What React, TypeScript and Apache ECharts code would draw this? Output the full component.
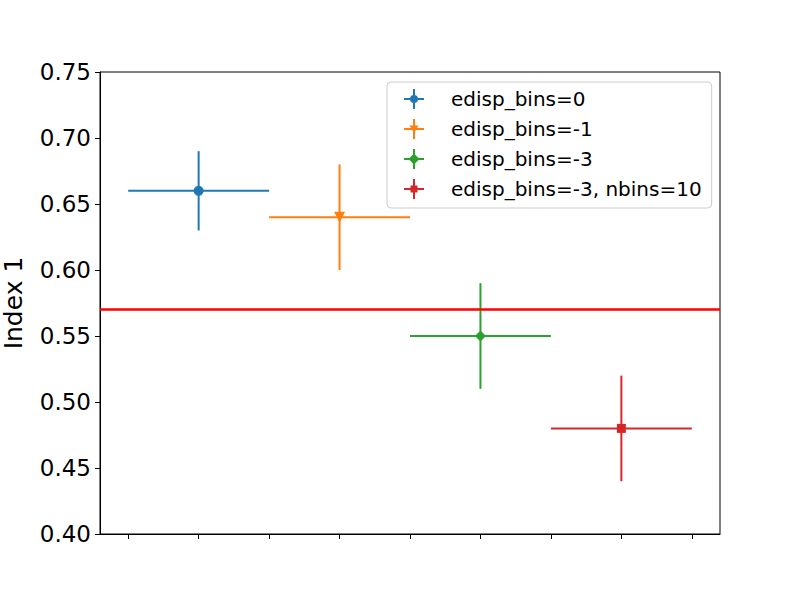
import React, { useEffect, useRef } from "react";
import * as echarts from "echarts";

const seriesNames = ["edisp_bins=0", "edisp_bins=-1", "edisp_bins=-3", "edisp_bins=-3, nbins=10"];
const xValues = [1, 3, 5, 7];
const yValues = [0.66, 0.64, 0.55, 0.48];
const xErrors = [1, 1, 1, 1];
const yErrors = [0.03, 0.04, 0.04, 0.04];
const refValue = 0.57;
const xTickValues = [0, 1, 2, 3, 4, 5, 6, 7, 8];
const colors = ["#1f77b4", "#ff7f0e", "#2ca02c", "#d62728"];

const CROSS = "M0 9 H20 V11 H0 Z M9 0 H11 V20 H9 Z ";
const markerPaths = [
  "M6 10 A4 4 0 1 1 14 10 A4 4 0 1 1 6 10 Z",
  "M5.5 6.5 L14.5 6.5 L10 14 Z",
  "M10 4.5 L15.5 10 L10 15.5 L4.5 10 Z",
  "M6.5 6.5 H13.5 V13.5 H6.5 Z",
];
const markerSymbols = ["circle", "triangle", "diamond", "rect"];
const markerRotate = [0, 180, 0, 0];
const markerSizes = [10, 11, 11, 9];

const FONT = "DejaVu Sans";

export default function App() {
  const ref = useRef<HTMLDivElement>(null);
  useEffect(() => {
    if (!ref.current) return;
    document.body.style.margin = "0";
    const chart = echarts.init(ref.current, undefined, { renderer: "svg" });
    const series: any[] = [];
    seriesNames.forEach((name, i) => {
      series.push({
        name,
        type: "custom",
        data: [[xValues[i], yValues[i], xErrors[i], yErrors[i]]],
        renderItem: (params: any, api: any) => {
          const x = api.value(0);
          const y = api.value(1);
          const xe = api.value(2);
          const ye = api.value(3);
          const l = api.coord([x - xe, y]);
          const r = api.coord([x + xe, y]);
          const t = api.coord([x, y + ye]);
          const b = api.coord([x, y - ye]);
          const style = { stroke: colors[i], lineWidth: 2 };
          return {
            type: "group",
            children: [
              { type: "line", shape: { x1: l[0], y1: l[1], x2: r[0], y2: r[1] }, style },
              { type: "line", shape: { x1: t[0], y1: t[1], x2: b[0], y2: b[1] }, style },
            ],
          };
        },
        z: 2,
      });
      series.push({
        name,
        type: "scatter",
        data: [[xValues[i], yValues[i]]],
        symbol: markerSymbols[i],
        symbolRotate: markerRotate[i],
        symbolSize: markerSizes[i],
        itemStyle: { color: colors[i], opacity: 1 },
        z: 3,
      });
    });
    series.push({
      type: "line",
      data: [],
      z: 4,
      markLine: {
        silent: true,
        symbol: "none",
        label: { show: false },
        lineStyle: { color: "#ff0000", width: 2.5, type: "solid" },
        data: [{ yAxis: refValue }],
        z: 4,
      },
    });

    chart.setOption({
      animation: false,
      color: colors,
      grid: {
        left: 100,
        right: 80,
        top: 72,
        bottom: 66,
        show: true,
        borderColor: "#000",
        borderWidth: 1,
        backgroundColor: "transparent",
        containLabel: false,
        outerBoundsMode: "none",
      },
      legend: {
        orient: "vertical",
        left: 387,
        top: 82,
        padding: [7, 10, 9, 17],
        itemGap: 10,
        itemWidth: 20,
        itemHeight: 20,
        borderColor: "#cccccc",
        borderWidth: 1,
        borderRadius: 4,
        backgroundColor: "rgba(255,255,255,0.8)",
        textStyle: { fontFamily: FONT, fontSize: 20, color: "#000", padding: [0, 0, 0, 22] },
        data: seriesNames.map((name, i) => ({
          name,
          icon: "path://" + CROSS + markerPaths[i],
          itemStyle: { color: colors[i] },
        })),
      },
      xAxis: {
        type: "value",
        min: -0.4,
        max: 8.4,
        axisLine: { show: true, onZero: false, lineStyle: { color: "#000", width: 1 } },
        axisTick: {
          show: true,
          length: 5,
          customValues: xTickValues,
          lineStyle: { color: "#000", width: 1 },
        },
        axisLabel: { show: false },
        splitLine: { show: false },
      },
      yAxis: {
        type: "value",
        min: 0.4,
        max: 0.75,
        interval: 0.05,
        name: "Index 1",
        nameLocation: "middle",
        nameGap: 74,
        nameTextStyle: { fontFamily: FONT, fontSize: 25, color: "#000" },
        axisLine: { show: true, onZero: false, lineStyle: { color: "#000", width: 1 } },
        axisTick: { show: true, length: 5, lineStyle: { color: "#000", width: 1 } },
        axisLabel: {
          fontFamily: FONT,
          fontSize: 23,
          color: "#000",
          margin: 9,
          formatter: (v: number) => v.toFixed(2),
        },
        splitLine: { show: false },
      },
      series,
    });
    return () => chart.dispose();
  }, []);
  return <div ref={ref} style={{ width: 800, height: 600 }} />;
}
